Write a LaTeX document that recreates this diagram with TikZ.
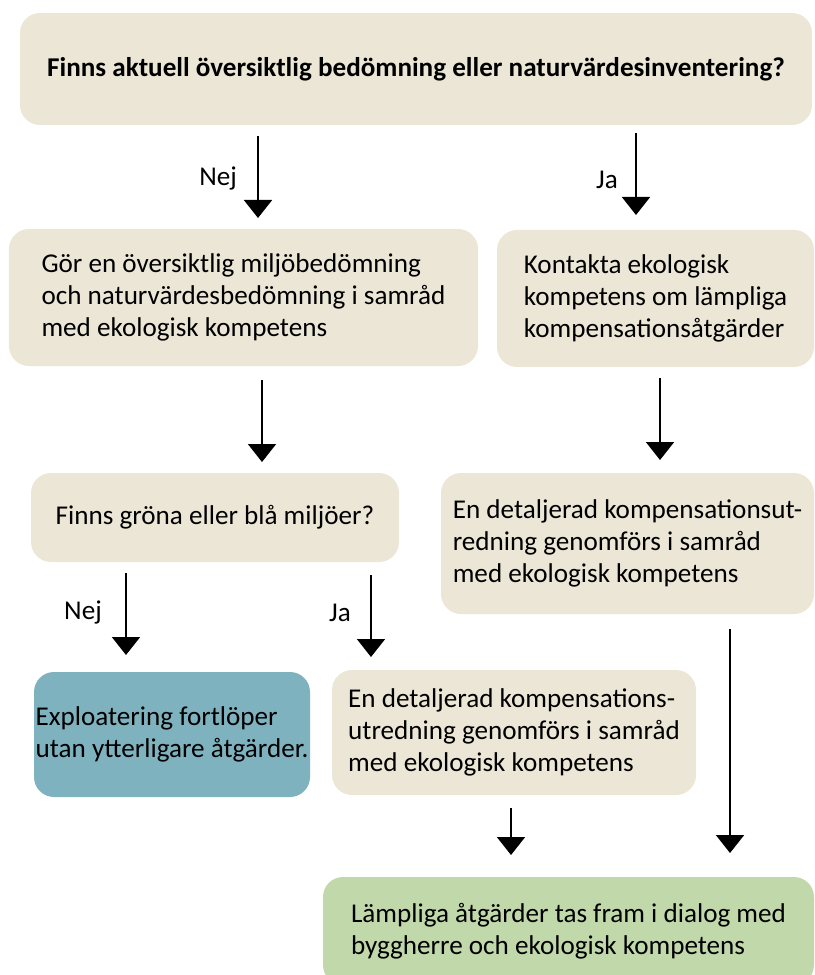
\documentclass[tikz,border=0pt]{standalone}
\usepackage{fontspec}
\setmainfont{Carlito}
\usetikzlibrary{arrows.meta}

\definecolor{beige}{RGB}{235,230,214}
\definecolor{tealblue}{RGB}{127,178,191}
\definecolor{sage}{RGB}{193,216,171}

\tikzset{
  box/.style={fill=beige, rounded corners=0.5cm, align=left, inner sep=0pt,
    font=\fontsize{19.3pt}{22.9pt}\selectfont},
  arr/.style={line width=1.4pt, -{Triangle[width=0.7cm, length=0.45cm]}},
  lbl/.style={font=\fontsize{19.3pt}{22.9pt}\selectfont}
}

\begin{document}
\begin{tikzpicture}

    % Fix the page to the size of the reference
    \useasboundingbox (0,0) rectangle (20.35,-24.375);

    % Top question
    \node[box, align=center, minimum width=19.8cm, minimum height=2.8cm] (q1) at (10.4,-1.725)
        {\textbf{Finns aktuell översiktlig bedömning eller naturvärdesinventering?}};

    % Second row
    \node[box, minimum width=11.725cm, minimum height=3.425cm] (screen) at (6.0875,-7.4375)
        {Gör en översiktlig miljöbedömning\\och naturvärdesbedömning i samråd\\med ekologisk kompetens};
    \node[box, minimum width=7.925cm, minimum height=3.425cm] (contact) at (16.3875,-7.4625)
        {Kontakta ekologisk\\kompetens om lämpliga\\kompensationsåtgärder};

    % Third row
    \node[box, minimum width=9.2cm, minimum height=2.225cm] (q2) at (5.375,-12.9375)
        {Finns gröna eller blå miljöer?};
    \node[box, minimum width=9.325cm, minimum height=3.525cm] (studyR) at (15.6875,-13.5875)
        {En detaljerad kompensationsut-\\redning genomförs i samråd\\med ekologisk kompetens};

    % Fourth row
    \node[box, fill=tealblue, minimum width=6.9cm, minimum height=3.125cm] (proceed) at (4.3,-18.3625)
        {Exploatering fortlöper\\utan ytterligare åtgärder.};
    \node[box, minimum width=9.1cm, minimum height=3.125cm] (studyL) at (12.85,-18.3125)
        {En detaljerad kompensations-\\utredning genomförs i samråd\\med ekologisk kompetens};

    % Final step
    \node[box, fill=sage, minimum width=12.275cm, minimum height=2.7cm] (measures) at (14.2125,-23.275)
        {Lämpliga åtgärder tas fram i dialog med\\byggherre och ekologisk kompetens};

    % Free ends of the arrows
    \coordinate (n1s) at (6.45,-3.4);     \coordinate (n1e) at (6.45,-5.45);
    \coordinate (j1s) at (15.9,-3.325);   \coordinate (j1e) at (15.9,-5.375);
    \coordinate (s1s) at (6.55,-9.5);     \coordinate (s1e) at (6.55,-11.55);
    \coordinate (c1s) at (16.5,-9.45);    \coordinate (c1e) at (16.5,-11.5);
    \coordinate (n2s) at (3.15,-14.325);  \coordinate (n2e) at (3.15,-16.375);
    \coordinate (j2s) at (9.275,-14.375); \coordinate (j2e) at (9.275,-16.425);
    \coordinate (r1s) at (18.25,-15.725); \coordinate (r1e) at (18.25,-21.325);
    \coordinate (l1s) at (12.775,-20.2);  \coordinate (l1e) at (12.775,-21.375);

    % Arrows
    \draw[arr] (n1s) -- (n1e);
    \draw[arr] (j1s) -- (j1e);
    \draw[arr] (s1s) -- (s1e);
    \draw[arr] (c1s) -- (c1e);
    \draw[arr] (n2s) -- (n2e);
    \draw[arr] (j2s) -- (j2e);
    \draw[arr] (r1s) -- (r1e);
    \draw[arr] (l1s) -- (l1e);

    % Answer labels
    \node[lbl] (nej1) at (5.45,-4.45) {Nej};
    \node[lbl] (ja1) at (15.175,-4.5) {Ja};
    \node[lbl] (nej2) at (2.075,-15.3) {Nej};
    \node[lbl] (ja2) at (8.5,-15.325) {Ja};

\end{tikzpicture}
\end{document}
